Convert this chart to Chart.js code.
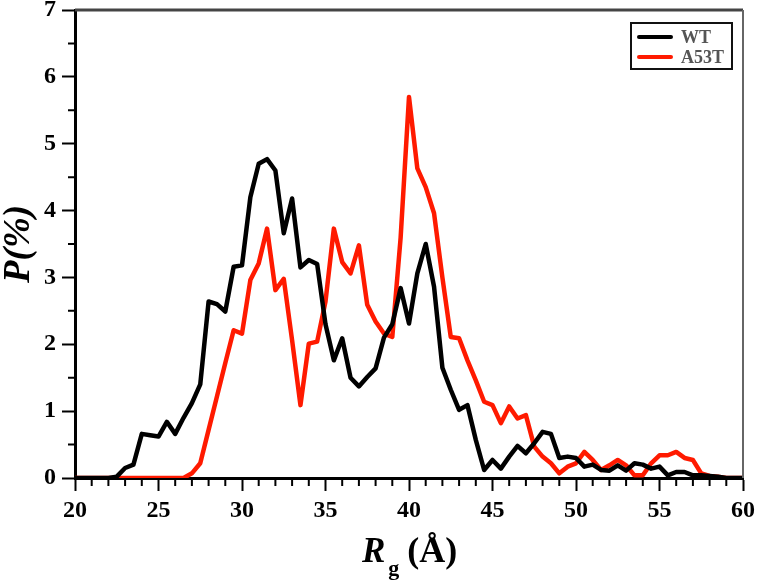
<!DOCTYPE html>
<html>
<head>
<meta charset="utf-8">
<script src="https://cdn.jsdelivr.net/npm/chart.js@4.4.0/dist/chart.umd.min.js"></script>
<style>
  html, body { margin: 0; padding: 0; background: #fff; }
</style>
</head>
<body>
<canvas id="chart" width="761" height="585"></canvas>
<script>
// Rg bins (Å)
const rgBins = [20, 20.5, 21, 21.5, 22, 22.5, 23, 23.5, 24, 24.5, 25, 25.5, 26, 26.5, 27, 27.5, 28, 28.5, 29, 29.5,
  30, 30.5, 31, 31.5, 32, 32.5, 33, 33.5, 34, 34.5, 35, 35.5, 36, 36.5, 37, 37.5, 38, 38.5, 39, 39.5,
  40, 40.5, 41, 41.5, 42, 42.5, 43, 43.5, 44, 44.5, 45, 45.5, 46, 46.5, 47, 47.5, 48, 48.5, 49, 49.5,
  50, 50.5, 51, 51.5, 52, 52.5, 53, 53.5, 54, 54.5, 55, 55.5, 56, 56.5, 57, 57.5, 58, 58.5, 59, 59.5, 60];

// P(%) for WT
const wtValues = [0, 0, 0, 0, 0, 0.02, 0.15, 0.2, 0.66, 0.64, 0.62, 0.84, 0.66, 0.9, 1.12, 1.4, 2.64, 2.6, 2.49, 3.16,
  3.18, 4.2, 4.7, 4.77, 4.6, 3.66, 4.18, 3.15, 3.26, 3.2, 2.3, 1.76, 2.09, 1.5, 1.37, 1.51, 1.64, 2.1, 2.3, 2.84,
  2.31, 3.06, 3.5, 2.86, 1.65, 1.32, 1.02, 1.09, 0.57, 0.12, 0.27, 0.14, 0.32, 0.48, 0.37, 0.52, 0.69, 0.66, 0.3, 0.32,
  0.3, 0.17, 0.2, 0.12, 0.11, 0.19, 0.11, 0.22, 0.2, 0.14, 0.17, 0.04, 0.09, 0.09, 0.04, 0.04, 0.03, 0.02, 0, 0, 0];

// P(%) for A53T
const a53tValues = [0, 0, 0, 0, 0, 0, 0, 0, 0, 0, 0, 0, 0, 0, 0.07, 0.22, 0.72, 1.22, 1.72, 2.21,
  2.16, 2.96, 3.21, 3.73, 2.81, 2.98, 2.06, 1.09, 2.01, 2.04, 2.64, 3.73, 3.23, 3.06, 3.48, 2.59, 2.34, 2.16, 2.11, 3.6,
  5.7, 4.63, 4.35, 3.96, 3.0, 2.11, 2.09, 1.76, 1.46, 1.14, 1.09, 0.82, 1.07, 0.89, 0.94, 0.47, 0.32, 0.22, 0.07, 0.17,
  0.22, 0.39, 0.27, 0.12, 0.19, 0.27, 0.19, 0.04, 0.04, 0.22, 0.34, 0.34, 0.39, 0.3, 0.27, 0.07, 0.03, 0.02, 0, 0, 0];

const seriesNames = ["WT", "A53T"];
const seriesColors = ["#000000", "#ff1a00"];

const serif = "'Liberation Serif', 'DejaVu Serif', serif";

// minor ticks, frame, legend and axis titles
const decorations = {
  id: "decorations",
  afterDraw(chart) {
    const ctx = chart.ctx;
    const area = chart.chartArea;
    const xs = chart.scales.x;
    const ys = chart.scales.y;
    ctx.save();

    // top and right frame
    ctx.strokeStyle = "#444";
    ctx.lineWidth = 3;
    ctx.beginPath();
    ctx.moveTo(area.left, area.top);
    ctx.lineTo(area.right, area.top);
    ctx.stroke();
    ctx.strokeStyle = "#666";
    ctx.lineWidth = 2;
    ctx.beginPath();
    ctx.moveTo(area.right, area.top);
    ctx.lineTo(area.right, area.bottom);
    ctx.stroke();

    // minor ticks
    ctx.strokeStyle = "#000";
    ctx.lineWidth = 2;
    ctx.beginPath();
    for (let v = 21; v < 60; v++) {
      if (v % 5 === 0) continue;
      const px = xs.getPixelForValue(v);
      ctx.moveTo(px, area.bottom);
      ctx.lineTo(px, area.bottom + 8);
    }
    for (let v = 0.5; v < 7; v += 1) {
      const py = ys.getPixelForValue(v);
      ctx.moveTo(area.left, py);
      ctx.lineTo(area.left - 7, py);
    }
    ctx.stroke();

    // legend
    const lx = 631, ly = 23, lw = 101, lh = 46;
    ctx.strokeStyle = "#111";
    ctx.lineWidth = 2;
    ctx.strokeRect(lx, ly, lw, lh);
    ctx.font = "bold 18px " + serif;
    ctx.textBaseline = "middle";
    ctx.textAlign = "left";
    seriesNames.forEach(function (name, i) {
      const y = ly + 14 + i * 20;
      ctx.strokeStyle = seriesColors[i];
      ctx.lineWidth = 4;
      ctx.lineCap = "round";
      ctx.beginPath();
      ctx.moveTo(lx + 8, y);
      ctx.lineTo(lx + 40, y);
      ctx.stroke();
      ctx.fillStyle = "#555";
      ctx.fillText(name, lx + 50, y + 1);
    });

    // y title
    ctx.fillStyle = "#000";
    ctx.save();
    ctx.translate(19, (area.top + area.bottom) / 2);
    ctx.rotate(-Math.PI / 2);
    ctx.textAlign = "center";
    ctx.textBaseline = "middle";
    ctx.font = "italic bold 37px " + serif;
    ctx.fillText("P(%)", 0, 0);
    ctx.restore();

    // x title with subscript
    const base = 562;
    ctx.textBaseline = "alphabetic";
    ctx.textAlign = "left";
    let x0 = 362;
    ctx.font = "italic bold 35px " + serif;
    ctx.fillText("R", x0, base);
    x0 += ctx.measureText("R").width + 3;
    ctx.font = "bold 22px " + serif;
    ctx.fillText("g", x0, base + 13);
    x0 += ctx.measureText("g").width + 8;
    ctx.font = "bold 36px " + serif;
    ctx.fillText("(Å)", x0, base);

    ctx.restore();
  }
};

new Chart(document.getElementById("chart"), {
  type: "line",
  data: {
    datasets: [
      {
        label: seriesNames[0],
        data: rgBins.map((x, i) => ({ x: x, y: wtValues[i] })),
        borderColor: seriesColors[0],
        borderWidth: 4.5,
        pointRadius: 0,
        borderJoinStyle: "round",
        tension: 0
      },
      {
        label: seriesNames[1],
        data: rgBins.map((x, i) => ({ x: x, y: a53tValues[i] })),
        borderColor: seriesColors[1],
        borderWidth: 4.5,
        pointRadius: 0,
        borderJoinStyle: "round",
        tension: 0
      }
    ]
  },
  options: {
    responsive: false,
    animation: false,
    layout: { padding: { left: 0, top: 10, right: 18, bottom: 0 } },
    plugins: {
      legend: { display: false },
      tooltip: { enabled: false }
    },
    scales: {
      x: {
        type: "linear",
        min: 20,
        max: 60,
        afterFit: function (scale) {
          scale.height = 107;
          scale.paddingLeft = 0;
          scale.paddingRight = 0;
        },
        grid: { display: true, drawOnChartArea: false, drawTicks: true, tickLength: 13, tickWidth: 2, tickColor: "#000" },
        border: { display: true, color: "#000", width: 3 },
        ticks: {
          stepSize: 5,
          padding: 5,
          color: "#000",
          font: { family: serif, size: 24, weight: "bold" }
        }
      },
      y: {
        min: 0,
        max: 7,
        afterFit: function (scale) {
          scale.width = 75;
          scale.paddingTop = 0;
          scale.paddingBottom = 0;
        },
        grid: { display: true, drawOnChartArea: false, drawTicks: true, tickLength: 13, tickWidth: 2, tickColor: "#000" },
        border: { display: true, color: "#000", width: 3 },
        ticks: {
          stepSize: 1,
          padding: 6,
          color: "#000",
          font: { family: serif, size: 24, weight: "bold" }
        }
      }
    }
  },
  plugins: [decorations]
});
</script>
</body>
</html>
